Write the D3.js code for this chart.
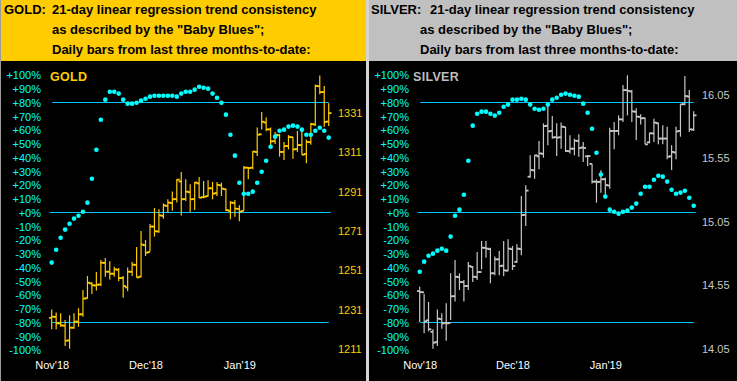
<!DOCTYPE html>
<html><head><meta charset="utf-8">
<script src="https://cdn.jsdelivr.net/npm/d3@7/dist/d3.min.js"></script>
<style>
body{margin:0;background:#fff;}
svg{display:block;font-family:"Liberation Sans",Arial,sans-serif;}
</style></head>
<body>
<svg id="chart" width="737" height="381"></svg>
<script>
// ---------- DATA ----------
const pctTicks = [100,90,80,70,60,50,40,30,20,10,0,-10,-20,-30,-40,-50,-60,-70,-80,-90,-100];
const refLevels = [80, 0, -80];
const monthLabels = ["Nov'18","Dec'18","Jan'19"];
const monthIndex = [0, 21, 42];

const goldPriceTicks = [1331,1311,1291,1271,1251,1231,1211];
const silverPriceTicks = [16.05,15.55,15.05,14.55,14.05];

const goldHigh  = [1230.8,1229.2,1228.8,1225.4,1227.8,1228.8,1231.4,1240.7,1247.8,1244.8,1249.9,1256.0,1257.0,1255.3,1252.6,1251.9,1247.8,1252.2,1255.0,1262.6,1270.7,1266.2,1274.3,1282.5,1281.8,1284.8,1286.9,1290.9,1297.1,1300.8,1297.1,1294.5,1295.7,1298.2,1296.2,1296.6,1295.7,1295.7,1295.4,1292.3,1286.0,1286.5,1283.8,1303.9,1303.3,1311.5,1323.5,1331.4,1328.6,1323.5,1321.2,1320.2,1316.1,1319.6,1318.8,1321.7,1322.0,1317.4,1325.9,1345.4,1350.0,1344.6,1335.8];
const goldLow   = [1220.7,1220.7,1222.0,1212.2,1210.8,1221.0,1222.0,1227.1,1236.3,1238.7,1240.4,1242.7,1247.5,1246.1,1247.5,1245.1,1236.8,1240.0,1247.8,1247.1,1247.1,1258.0,1260.4,1267.9,1269.9,1277.0,1280.1,1281.1,1285.2,1278.7,1286.0,1280.6,1281.4,1287.6,1287.4,1288.2,1286.9,1288.6,1288.6,1280.8,1276.7,1278.0,1275.7,1281.0,1297.1,1302.2,1308.9,1322.5,1321.5,1313.2,1315.1,1308.6,1306.9,1312.3,1307.6,1311.0,1309.6,1305.2,1314.7,1324.2,1340.4,1323.9,1324.2];
const goldOpen  = [1226.5,1227.0,1223.7,1222.5,1215.0,1221.5,1224.6,1228.3,1236.5,1244.0,1243.0,1243.5,1254.5,1250.0,1249.0,1251.0,1246.8,1242.0,1250.0,1253.5,1247.5,1263.5,1260.0,1273.0,1270.5,1278.5,1283.5,1285.0,1287.0,1296.0,1287.0,1290.5,1287.0,1295.0,1288.0,1288.5,1292.5,1290.0,1294.0,1292.0,1281.0,1285.0,1282.0,1281.0,1303.0,1303.0,1311.0,1320.0,1326.0,1322.5,1316.5,1319.5,1311.0,1314.0,1318.5,1312.5,1314.5,1310.0,1316.0,1325.0,1344.5,1341.5,1326.5];
const goldClose = [1227.1,1223.7,1222.7,1214.9,1221.5,1224.6,1228.3,1236.3,1244.4,1243.1,1243.4,1254.6,1250.0,1249.0,1251.2,1246.8,1242.7,1250.0,1253.6,1247.1,1263.8,1259.7,1273.0,1270.6,1278.7,1283.8,1285.2,1286.9,1296.9,1286.9,1290.8,1286.9,1295.4,1287.7,1288.2,1292.5,1289.8,1294.2,1292.3,1281.4,1285.2,1282.1,1280.6,1303.0,1302.8,1311.2,1319.8,1326.4,1322.5,1316.4,1319.8,1311.0,1314.0,1318.6,1312.3,1314.5,1309.6,1316.1,1325.2,1344.6,1341.5,1326.3,1330.8];
const goldBlues = [-36.8,-27.4,-18.7,-12.8,-8.5,-4.8,-2.7,0.2,6.8,24.2,45.3,67.1,81.7,87.5,87.5,86.1,81.7,78.8,78.8,79.5,81.0,82.4,83.9,84.6,84.6,84.6,84.6,84.6,83.9,86.1,87.5,87.5,89.0,91.1,90.4,89.7,86.1,83.1,79.5,70.8,56.2,41.0,21.3,13.3,13.3,14.8,21.3,29.3,37.3,47.5,54.8,59.1,59.9,62.1,62.8,62.1,59.9,56.2,56.2,59.1,61.3,59.1,54.1];

const silverHigh  = [14.535,14.477,14.414,14.199,14.356,14.325,14.404,14.640,14.744,14.640,14.587,14.729,14.697,14.807,14.894,14.894,14.841,14.771,14.815,14.894,14.907,14.855,14.868,15.248,15.332,15.568,15.568,15.680,15.819,15.956,15.877,15.819,15.825,15.790,15.725,15.699,15.733,15.672,15.568,15.502,15.379,15.450,15.392,15.785,15.830,15.882,16.121,16.197,16.081,15.937,15.890,15.864,15.746,15.856,15.825,15.804,15.793,15.646,15.793,15.969,16.192,16.081,15.914];
const silverLow   = [14.257,14.168,14.183,14.047,14.068,14.204,14.110,14.273,14.419,14.509,14.419,14.509,14.571,14.587,14.671,14.763,14.561,14.624,14.624,14.619,14.658,14.666,14.723,14.781,15.012,15.392,15.384,15.458,15.549,15.646,15.699,15.562,15.620,15.594,15.583,15.568,15.557,15.515,15.484,15.347,15.195,15.274,15.248,15.305,15.615,15.725,15.830,15.882,15.830,15.688,15.811,15.654,15.662,15.672,15.654,15.654,15.536,15.452,15.536,15.714,15.961,15.751,15.759];
const silverOpen  = [14.500,14.490,14.270,14.180,14.100,14.280,14.250,14.250,14.460,14.610,14.570,14.540,14.690,14.610,14.650,14.840,14.830,14.640,14.750,14.700,14.660,14.830,14.730,14.830,15.100,15.400,15.450,15.560,15.580,15.800,15.760,15.710,15.710,15.790,15.600,15.620,15.680,15.630,15.560,15.500,15.360,15.360,15.380,15.330,15.760,15.760,15.850,16.080,16.070,15.910,15.870,15.860,15.670,15.740,15.820,15.700,15.700,15.560,15.590,15.760,15.970,16.030,15.770];
const silverClose = [14.493,14.262,14.200,14.094,14.283,14.246,14.246,14.459,14.613,14.571,14.540,14.697,14.613,14.650,14.841,14.834,14.640,14.750,14.697,14.663,14.834,14.697,14.834,15.098,15.290,15.452,15.568,15.583,15.798,15.756,15.709,15.707,15.793,15.602,15.620,15.683,15.625,15.625,15.562,15.361,15.358,15.379,15.334,15.759,15.759,15.851,16.081,16.074,15.914,15.872,15.859,15.654,15.741,15.825,15.699,15.699,15.557,15.594,15.756,15.969,16.034,15.772,15.882];
const silverBlues = [-43.4,-36.1,-31.8,-30.3,-28.1,-26.7,-28.1,-17.9,-2.7,1.7,12.6,37.3,62.8,71.5,73.0,73.0,71.5,70.1,72.2,76.6,78.1,81.7,81.7,82.4,81.7,78.1,75.1,74.4,75.1,78.1,81.7,83.1,85.3,86.1,85.3,84.6,83.9,78.8,72.2,60.6,43.1,27.2,11.2,1.7,0.2,-1.2,0.2,1.0,3.2,6.1,13.3,18.4,18.4,23.5,26.4,25.7,22.1,16.2,13.3,14.1,15.5,10.4,4.6];

// ---------- DRAW ----------
const FONT = "Liberation Sans, Arial, sans-serif";
const svg = d3.select("#chart");
const W = 737, H = 381;
svg.append("rect").attr("x",0).attr("y",0).attr("width",W).attr("height",H).attr("fill","#c0c0c0");

const panels = [
  {name:"GOLD", x0:0, x1:366, headerFill:"#ffcc00", titleText:"GOLD:", titleX:4, line1X:52, lineX:52,
   barColor:"#ffcc00", priceColor:"#ffcc00", nameColor:"#ffcc00",
   high:goldHigh, low:goldLow, open:goldOpen, close:goldClose, blues:goldBlues,
   xRange:[51.7,328.7], pctAxisX:41, priceAxisX:338, priceTicks:goldPriceTicks,
   priceDomain:[1211,1331], priceRange:[348.3,112.7], priceFmt:d3.format("d"), nameX:50},
  {name:"SILVER", x0:369, x1:737, headerFill:"#c0c0c0", titleText:"SILVER:", titleX:371, line1X:430, lineX:420,
   barColor:"#c8c8c8", priceColor:"#c8c8c8", nameColor:"#bdbdbd",
   high:silverHigh, low:silverLow, open:silverOpen, close:silverClose, blues:silverBlues,
   xRange:[419.7,693.7], pctAxisX:409, priceAxisX:702, priceTicks:silverPriceTicks,
   priceDomain:[14.05,16.05], priceRange:[348.3,94], priceFmt:d3.format(".2f"), nameX:413}
];

const yPct = d3.scaleLinear().domain([-100,100]).range([349.5,74.5]);
const headerH = 61;
const line1 = "21-day linear regression trend consistency";
const line2 = "as described by the \"Baby Blues\";";
const line3 = "Daily bars from last three months-to-date:";

panels.forEach(p => {
  const g = svg.append("g");
  g.append("rect").attr("x",p.x0).attr("y",0).attr("width",p.x1-p.x0).attr("height",headerH).attr("fill",p.headerFill);
  g.append("rect").attr("x",p.x0).attr("y",headerH).attr("width",p.x1-p.x0).attr("height",H-headerH).attr("fill","#000");
  const hdr = g.append("g").attr("font-family",FONT).attr("font-size",13).attr("font-weight","bold").attr("fill","#000");
  hdr.append("text").attr("x",p.titleX).attr("y",14).text(p.titleText);
  hdr.append("text").attr("x",p.line1X).attr("y",14).text(line1);
  hdr.append("text").attr("x",p.lineX).attr("y",34.3).text(line2);
  hdr.append("text").attr("x",p.lineX).attr("y",54.3).text(line3);

  const n = p.close.length;
  const x = d3.scaleLinear().domain([0,n-1]).range(p.xRange);
  const yPrice = d3.scaleLinear().domain(p.priceDomain).range(p.priceRange);

  const pctAxis = d3.axisLeft(yPct).tickValues(pctTicks).tickSize(0).tickPadding(0)
      .tickFormat(d => (d >= 0 ? "+" : "") + d + "%");
  const ga = g.append("g").attr("transform",`translate(${p.pctAxisX},0.8)`).call(pctAxis);
  ga.select(".domain").remove();
  ga.attr("font-family",FONT);
  ga.selectAll("text").attr("fill","#00ffff").attr("font-size",11);

  const priceAxis = d3.axisRight(yPrice).tickValues(p.priceTicks).tickSize(0).tickPadding(0).tickFormat(p.priceFmt);
  const gp = g.append("g").attr("transform",`translate(${p.priceAxisX},0.5)`).call(priceAxis);
  gp.select(".domain").remove();
  gp.attr("font-family",FONT);
  gp.selectAll("text").attr("fill",p.priceColor).attr("font-size",11);

  const monthAxis = d3.axisBottom(x).tickValues(monthIndex).tickSize(0).tickPadding(0)
      .tickFormat((d,i) => monthLabels[i]);
  const gm = g.append("g").attr("transform","translate(0,361)").call(monthAxis);
  gm.select(".domain").remove();
  gm.attr("font-family",FONT);
  gm.selectAll("text").attr("fill","#fff").attr("font-size",11);

  g.append("text").attr("x",p.nameX).attr("y",80.7).attr("font-family",FONT).attr("font-size",12.5).attr("font-weight","bold")
    .attr("fill",p.nameColor).attr("letter-spacing",0.3).text(p.name);

  g.selectAll("line.ref").data(refLevels).join("line").attr("class","ref")
    .attr("x1", d => x(0) + (d === 0 ? -2 : 0.5))
    .attr("x2", d => x(n-1) + (d === 0 ? 2 : 0))
    .attr("y1", d => Math.round(yPct(d)) + 0.5).attr("y2", d => Math.round(yPct(d)) + 0.5)
    .attr("stroke","#00c8ff").attr("stroke-width",1.2);

  const idx = d3.range(n);
  const bars = g.append("g").attr("stroke",p.barColor);
  bars.selectAll("line.hl").data(idx).join("line").attr("class","hl")
    .attr("x1", i => x(i)).attr("x2", i => x(i))
    .attr("y1", i => yPrice(p.high[i])).attr("y2", i => yPrice(p.low[i]))
    .attr("stroke-width",1.2);
  bars.selectAll("line.op").data(idx).join("line").attr("class","op")
    .attr("x1", i => x(i) - 2.6).attr("x2", i => x(i))
    .attr("y1", i => yPrice(p.open[i])).attr("y2", i => yPrice(p.open[i]))
    .attr("stroke-width",1.8);
  bars.selectAll("line.cl").data(idx).join("line").attr("class","cl")
    .attr("x1", i => x(i)).attr("x2", i => x(i) + 2.8)
    .attr("y1", i => yPrice(p.close[i])).attr("y2", i => yPrice(p.close[i]))
    .attr("stroke-width",1.8);

  g.append("g").selectAll("circle").data(idx).join("circle")
    .attr("cx", i => x(i)).attr("cy", i => yPct(p.blues[i]))
    .attr("r",2.3).attr("fill","#00ffff");
});

svg.append("rect").attr("x",366).attr("y",0).attr("width",3).attr("height",H).attr("fill","#d4d4d4");
svg.append("rect").attr("x",0).attr("y",0).attr("width",1).attr("height",H).attr("fill","#9a9a9a");
</script>
</body></html>
